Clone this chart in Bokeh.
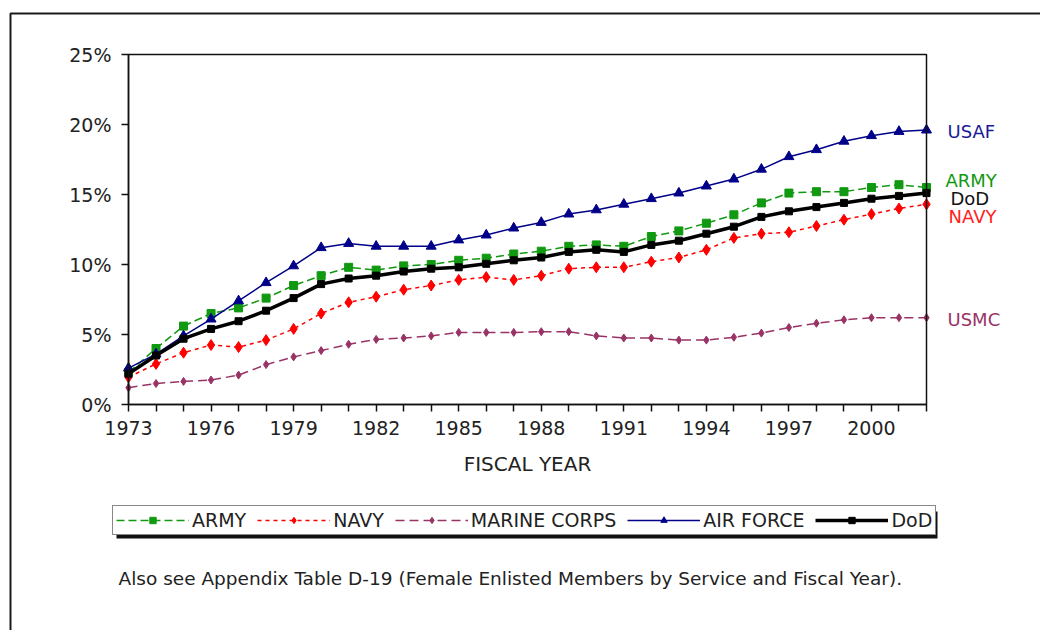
from bokeh.plotting import figure
from bokeh.models import (Range1d, FixedTicker, Label, Legend, LegendItem,
                          BoxAnnotation, PrintfTickFormatter)
from bokeh.embed import file_html
from bokeh.resources import INLINE

# ---------------- data ----------------
years = list(range(1973, 2003))
army = [2.3, 4.0, 5.6, 6.5, 6.9, 7.6, 8.5, 9.2, 9.8, 9.6, 9.9, 10.0, 10.3, 10.45,
        10.75, 10.95, 11.3, 11.4, 11.3, 12.0, 12.4, 12.95, 13.55, 14.4, 15.1, 15.2,
        15.2, 15.5, 15.7, 15.5]
navy = [1.95, 2.9, 3.7, 4.25, 4.1, 4.6, 5.4, 6.5, 7.3, 7.7, 8.2, 8.5, 8.9, 9.1,
        8.9, 9.2, 9.7, 9.8, 9.8, 10.2, 10.5, 11.05, 11.9, 12.2, 12.3, 12.75, 13.2,
        13.6, 14.0, 14.3]
marines = [1.2, 1.5, 1.65, 1.75, 2.1, 2.85, 3.4, 3.85, 4.3, 4.65, 4.75, 4.9, 5.15,
           5.15, 5.15, 5.2, 5.2, 4.9, 4.75, 4.75, 4.6, 4.6, 4.8, 5.1, 5.5, 5.8, 6.05,
           6.2, 6.2, 6.2]
air_force = [2.6, 3.6, 4.9, 6.1, 7.4, 8.7, 9.9, 11.2, 11.5, 11.3, 11.3, 11.3, 11.75,
             12.1, 12.6, 13.0, 13.6, 13.9, 14.3, 14.7, 15.1, 15.6, 16.1, 16.8, 17.7,
             18.2, 18.8, 19.2, 19.5, 19.6]
dod = [2.2, 3.5, 4.7, 5.4, 5.95, 6.7, 7.6, 8.6, 9.0, 9.2, 9.5, 9.7, 9.8, 10.05, 10.3,
       10.5, 10.9, 11.05, 10.9, 11.4, 11.7, 12.2, 12.7, 13.4, 13.8, 14.1, 14.4, 14.7,
       14.9, 15.1]

y_ticks = [0, 5, 10, 15, 20, 25]
series_names = ["ARMY", "NAVY", "MARINE CORPS", "AIR FORCE", "DoD"]
footnote = "Also see Appendix Table D-19 (Female Enlisted Members by Service and Fiscal Year)."

FONT = "DejaVu Sans"

# ---------------- geometry (whole canvas is the frame) ----------------
W, H = 1040, 630
PX_L, PX_R, PY_T, PY_B = 128, 926, 54, 404       # pixel box of the plot area
XA, XB, YA, YB = 1973, 2002, 0, 25               # its data extent
sx = (PX_R - PX_L) / (XB - XA)
sy = (PY_B - PY_T) / (YB - YA)


def px_x(px):
    return XA + (px - PX_L) / sx


def px_y(py):
    return YA + (PY_B - py) / sy


p = figure(width=W, height=H,
           x_range=Range1d(px_x(0), px_x(W)), y_range=Range1d(px_y(H), px_y(0)),
           output_backend="svg", toolbar_location=None,
           min_border=0, min_border_left=0, min_border_right=0,
           min_border_top=0, min_border_bottom=0)
p.title.visible = False
p.xgrid.visible = False
p.ygrid.visible = False
p.outline_line_color = None
p.background_fill_color = "white"
p.border_fill_color = "white"

xa = p.xaxis[0]
xa.fixed_location = YA
xa.bounds = (XA, XB)
xa.ticker = FixedTicker(ticks=years)
xa.major_label_overrides = {y: (str(y) if (y - 1973) % 3 == 0 else "") for y in years}
xa.axis_label = "FISCAL YEAR"
ya = p.yaxis[0]
ya.fixed_location = XA
ya.bounds = (YA, YB)
ya.ticker = FixedTicker(ticks=y_ticks)
ya.formatter = PrintfTickFormatter(format="%d%%")
for ax in (xa, ya):
    ax.axis_line_color = "#111111"
    ax.axis_line_width = 1.5
    ax.major_tick_line_color = "#111111"
    ax.major_tick_line_width = 1.5
    ax.major_tick_out = 7
    ax.major_tick_in = 0
    ax.minor_tick_out = 0
    ax.minor_tick_in = 0
    ax.major_label_text_font = FONT
    ax.major_label_text_font_size = "19px"
    ax.major_label_text_color = "#222222"
    ax.axis_label_text_font = FONT
    ax.axis_label_text_font_size = "20px"
    ax.axis_label_text_font_style = "normal"
    ax.axis_label_text_color = "#222222"
xa.major_label_standoff = 9
xa.axis_label_standoff = 14
ya.major_label_standoff = 10

colors = ["#119911", "#ff0000", "#993366", "#000088", "#000000"]
dashes = ["8 4", "4 4", "9 5", "solid", "solid"]
widths = [1.5, 1.5, 1.5, 1.5, 3.5]
markers = ["square", "diamond", "diamond", "triangle", "square"]
msizes = [8, 11, 8, 10, 7]
data = [army, navy, marines, air_force, dod]

items = []
for name, vals, c, d, w, m, s in zip(series_names, data, colors, dashes, widths, markers, msizes):
    lr = p.line(years, vals, line_color=c, line_dash=d, line_width=w)
    sr = p.scatter(years, vals, marker=m, size=s, fill_color=c, line_color=c)
    items.append(LegendItem(label=name, renderers=[lr, sr]))

# plot box (top and right edges)
p.add_layout(BoxAnnotation(left=XA, right=XB, bottom=YA, top=YB, fill_alpha=0,
                           line_color="#111111", line_alpha=1, line_width=1.5))

# end-of-line labels
label_pos = {"USAF": (19.52, 21, "#1a1a99"), "ARMY": (16.0, 19, "#119911"),
             "DoD": (14.69, 24, "#111111"), "NAVY": (13.43, 22, "#ff2222"),
             "USMC": (6.07, 21, "#993366")}
for t, (yy, xo, c) in label_pos.items():
    p.add_layout(Label(x=XB, y=yy, x_offset=xo, text=t, text_baseline="middle",
                       text_font=FONT, text_font_size="18px", text_color=c))

# outer frame (top + left edges)
p.add_layout(BoxAnnotation(left=px_x(10), right=px_x(1300), top=px_y(13), bottom=px_y(900),
                           fill_alpha=0, line_color="#1a1a1a", line_alpha=1, line_width=2))

# legend shadow + legend
p.add_layout(BoxAnnotation(left=px_x(116), right=px_x(937), top=px_y(511), bottom=px_y(538),
                           fill_color="#111111", fill_alpha=1, line_alpha=0))
legend = Legend(items=items, orientation="horizontal", location=(112, H - 535),
                border_line_color="#111111", border_line_width=1.5,
                background_fill_color="white", background_fill_alpha=1,
                label_text_font=FONT, label_text_font_size="19px", label_text_color="#222222",
                glyph_width=73, glyph_height=16, label_height=16, label_standoff=3,
                spacing=11, padding=3, margin=0)
p.add_layout(legend)

p.add_layout(Label(x=px_x(118), y=px_y(578), text=footnote, text_baseline="middle",
                   text_font=FONT, text_font_size="18.5px", text_color="#222222"))

open("out.html", "w").write(file_html(p, INLINE))
